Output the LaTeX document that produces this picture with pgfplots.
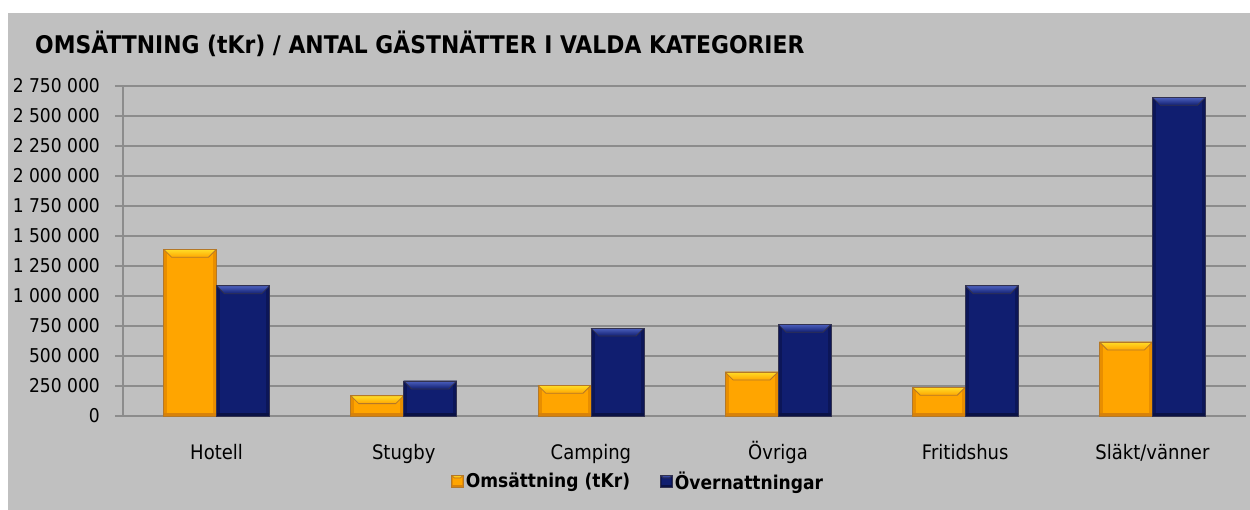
\documentclass[border=0pt]{standalone}
\usepackage{pgfplots}
\pgfplotsset{compat=1.18}
\usepackage{fontspec}
\setmainfont{DejaVu Sans}[FakeStretch=0.9]
\definecolor{bg}{RGB}{192,192,192}
\definecolor{orng}{RGB}{255,165,0}
\definecolor{orngTop}{RGB}{255,222,40}
\definecolor{orngDark}{RGB}{232,142,0}
\definecolor{orngBot}{RGB}{215,130,10}
\definecolor{orngLine}{RGB}{180,120,40}
\definecolor{navy}{RGB}{16,30,112}
\definecolor{navyTop}{RGB}{76,96,190}
\definecolor{navyDark}{RGB}{12,22,88}
\definecolor{navyBot}{RGB}{10,18,70}
\definecolor{navyLine}{RGB}{50,50,80}
\definecolor{gridc}{RGB}{140,140,140}
\newif\ifinbevel
\def\bevelsz{8pt}
\def\bevelside{3pt}
\tikzset{bevel/.style n args={4}{path picture={\ifinbevel\else\inbeveltrue
  \fill[#2] (path picture bounding box.south west) rectangle ([xshift=\bevelside]path picture bounding box.north west);
  \fill[#2] (path picture bounding box.south east) rectangle ([xshift=-\bevelside]path picture bounding box.north east);
  \fill[#3] (path picture bounding box.south west) rectangle ([yshift=\bevelside]path picture bounding box.south east);
  \shade[top color=#1, bottom color=#4] (path picture bounding box.north west) -- (path picture bounding box.north east)
     -- ([xshift=-\bevelsz,yshift=-\bevelsz]path picture bounding box.north east)
     -- ([xshift=\bevelsz,yshift=-\bevelsz]path picture bounding box.north west) -- cycle;
  \fi
}}}
\pgfplotsset{
  oser/.style={fill=orng, draw=orngLine, line width=0.8pt, bevel={orngTop}{orngDark}{orngBot}{orng}, bar shift=-26.5pt},
  bser/.style={fill=navy, draw=navyLine, line width=0.8pt, bevel={navyTop}{navyDark}{navyBot}{navy}, bar shift=26.5pt},
}
\begin{document}
\begin{tikzpicture}
\fill[white] (0pt,0pt) rectangle (1250pt,-510pt);
\fill[bg] (8pt,-13pt) rectangle (1250pt,-510pt);
\node[anchor=base west, inner sep=0pt, font=\bfseries\fontsize{24.3}{28}\selectfont] at (35pt,-54pt) {OMSÄTTNING (tKr) / ANTAL GÄSTNÄTTER I VALDA KATEGORIER};
\begin{axis}[
  at={(123pt,-416pt)}, anchor=south west, scale only axis,
  width=1123pt, height=330pt,
  ymin=0, ymax=2750000, xmin=-0.5, xmax=5.5,
  ybar, bar width=53pt,
  ytick={0,250000,500000,750000,1000000,1250000,1500000,1750000,2000000,2250000,2500000,2750000},
  scaled y ticks=false,
  xtick={0,1,2,3,4,5},
  xticklabels={Hotell,Stugby,Camping,Övriga,Fritidshus,Släkt/vänner},
  axis x line*=bottom, axis y line*=left,
  axis line style={gridc, line width=1.3pt, -},
  ymajorgrids, grid style={gridc, line width=1.3pt},
  ytick style={gridc, line width=1.3pt},
  tick align=outside, major tick length=8pt,
  xtick style={draw=none},
  yticklabel style={font=\fontsize{19}{21}\selectfont, inner sep=0pt, xshift=-15pt, anchor=east,
     /pgf/number format/.cd, fixed, 1000 sep={\ }, assume math mode=true},
  xticklabel style={font=\fontsize{20}{22}\selectfont, inner sep=0pt, anchor=base, yshift=-35pt},
  legend columns=2,
  legend style={at={(rel axis cs:0.4586,-0.197)}, anchor=center, draw=none, fill=none,
     font=\bfseries\fontsize{19}{21}\selectfont, /tikz/every even column/.append style={column sep=28pt},
     nodes={inner sep=2pt}},
  legend image code/.code={\def\bevelsz{3pt}\def\bevelside{1.2pt}\path[#1] (0pt,-6pt) rectangle (12pt,6pt);},
]
% Hotell
\addplot[oser] coordinates {(0,1390000)};
\addplot[bser] coordinates {(0,1085000)};
% Stugby
\addplot[oser, forget plot] coordinates {(1,170000)};
\addplot[bser, forget plot] coordinates {(1,292000)};
% Camping
\addplot[oser, forget plot] coordinates {(2,256000)};
\addplot[bser, forget plot] coordinates {(2,733000)};
% Övriga
\addplot[oser, forget plot] coordinates {(3,367000)};
\addplot[bser, forget plot] coordinates {(3,765000)};
% Fritidshus
\addplot[oser, forget plot] coordinates {(4,240000)};
\addplot[bser, forget plot] coordinates {(4,1085000)};
% Släkt/vänner
\addplot[oser, forget plot] coordinates {(5,617000)};
\addplot[bser, forget plot] coordinates {(5,2656000)};
\legend{Omsättning (tKr),Övernattningar}
\end{axis}
\end{tikzpicture}
\end{document}
